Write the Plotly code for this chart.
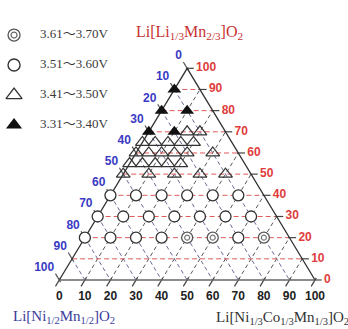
import plotly.graph_objects as go

# Compositions in mol% : t = Li[Li1/3Mn2/3]O2 (top), n = Li[Ni1/3Co1/3Mn1/3]O2 (bottom-right),
# the remainder is Li[Ni1/2Mn1/2]O2 (bottom-left).
ticks = list(range(0, 101, 10))

dbl_t = [20, 20, 20]
dbl_n = [40, 50, 70]

circ_t = [20, 20, 20, 20, 20,
          30, 30, 30, 30, 30, 30, 30,
          40, 40, 40, 40, 40, 40]
circ_n = [0, 10, 20, 30, 60,
          0, 10, 20, 30, 40, 50, 60,
          0, 10, 20, 30, 40, 50]

tri_t = [70, 70,
         65, 65, 65, 65, 65,
         60, 60, 60, 60, 60, 60,
         55, 55, 55, 55, 55,
         50, 50, 50, 50, 50]
tri_n = [15, 20,
         0, 5, 10, 15, 20,
         0, 5, 10, 15, 20, 30,
         0, 5, 10, 15, 20,
         0, 10, 20, 30, 40]

ftri_t = [90, 80, 80, 70, 70]
ftri_n = [0, 0, 10, 0, 10]

legend_labels = ["3.61～3.70V", "3.51～3.60V", "3.41～3.50V", "3.31～3.40V"]


def xy(t, n):
    """Ternary composition -> plane coordinates (triangle base 0..100, apex at Y=100)."""
    return n + t / 2.0, t


def pts(ts, ns):
    xs, ys = [], []
    for t, n in zip(ts, ns):
        x, y = xy(t, n)
        xs.append(x)
        ys.append(y)
    return xs, ys


fig = go.Figure()

# --- grid lines -------------------------------------------------------------
red_x, red_y, fw_x, fw_y, bk_x, bk_y = [], [], [], [], [], []
for k in ticks[1:-1]:
    # constant Li2MnO3 (horizontal)
    for x, y in (xy(k, 0), xy(k, 100 - k)):
        red_x.append(x); red_y.append(y)
    red_x.append(None); red_y.append(None)
    # constant NCM ("/" lines)
    for x, y in (xy(0, k), xy(100 - k, k)):
        fw_x.append(x); fw_y.append(y)
    fw_x.append(None); fw_y.append(None)
    # constant NiMn ("\" lines)
    for x, y in (xy(100 - k, 0), xy(0, 100 - k)):
        bk_x.append(x); bk_y.append(y)
    bk_x.append(None); bk_y.append(None)

fig.add_trace(go.Scatter(x=bk_x, y=bk_y, mode="lines",
                         line=dict(color="#6a6a98", width=1, dash="4px,3px")))
fig.add_trace(go.Scatter(x=fw_x, y=fw_y, mode="lines",
                         line=dict(color="#5a5a5a", width=1, dash="4px,3px")))
fig.add_trace(go.Scatter(x=red_x, y=red_y, mode="lines",
                         line=dict(color="#e05a5a", width=1, dash="5px,3px")))

# --- tick marks -------------------------------------------------------------
tb_x, tb_y, tr_x, tr_y, tl_x, tl_y = [], [], [], [], [], []
for k in ticks:
    # bottom edge, along "/"
    for t in (1.0, -3.0):
        x, y = k + t / 2.0, t
        tb_x.append(x); tb_y.append(y)
    tb_x.append(None); tb_y.append(None)
    # right edge, horizontal
    x0, y0 = xy(k, 100 - k)
    tr_x += [x0 - 0.5, x0 + 2.6, None]; tr_y += [y0, y0, None]
    # left edge, along "\"
    m = k
    for dt in (-1.0, 3.0):
        t = 100 - m + dt
        n = 100 - m - t
        x, y = xy(t, n)
        tl_x.append(x); tl_y.append(y)
    tl_x.append(None); tl_y.append(None)

fig.add_trace(go.Scatter(x=tb_x, y=tb_y, mode="lines", line=dict(color="#444", width=1.2)))
fig.add_trace(go.Scatter(x=tr_x, y=tr_y, mode="lines", line=dict(color="#444", width=1.2)))
fig.add_trace(go.Scatter(x=tl_x, y=tl_y, mode="lines", line=dict(color="#555", width=1.2)))

# --- triangle frame ---------------------------------------------------------
left_x, left_y = xy(0, 0)      # pure Li[Ni1/2Mn1/2]O2
right_x, right_y = xy(0, 100)  # pure Li[Ni1/3Co1/3Mn1/3]O2
apex_x, apex_y = xy(100, 0)    # pure Li[Li1/3Mn2/3]O2
fig.add_trace(go.Scatter(x=[left_x, apex_x, right_x], y=[left_y, apex_y, right_y],
                         mode="lines", line=dict(color="#333", width=1.3)))
fig.add_trace(go.Scatter(x=[left_x, right_x], y=[left_y, right_y], mode="lines",
                         line=dict(color="#666", width=1.3)))

# --- data markers -----------------------------------------------------------
x, y = pts(tri_t, tri_n)
fig.add_trace(go.Scatter(x=x, y=y, mode="markers",
                         marker=dict(symbol="triangle-up-open", size=12, color="#333",
                                     line=dict(width=1.2))))
x, y = pts(ftri_t, ftri_n)
fig.add_trace(go.Scatter(x=x, y=y, mode="markers",
                         marker=dict(symbol="triangle-up", size=12, color="#111",
                                     line=dict(width=0))))
x, y = pts(circ_t, circ_n)
fig.add_trace(go.Scatter(x=x, y=y, mode="markers",
                         marker=dict(symbol="circle", size=11, color="white",
                                     line=dict(color="#333", width=1.3))))
x, y = pts(dbl_t, dbl_n)
fig.add_trace(go.Scatter(x=x, y=y, mode="markers",
                         marker=dict(symbol="circle", size=11, color="white",
                                     line=dict(color="#555", width=1.3))))
fig.add_trace(go.Scatter(x=x, y=y, mode="markers",
                         marker=dict(symbol="circle-open", size=5, color="#777",
                                     line=dict(width=1.2))))

# --- axis tick labels -------------------------------------------------------
sans = "Liberation Sans, Arial, sans-serif"
# right edge (Li2MnO3 content)
rx, ry = [], []
for k in ticks:
    x0, y0 = xy(k, 100 - k)
    rx.append(x0 + 3.5); ry.append(y0)
fig.add_trace(go.Scatter(x=rx, y=ry, mode="text", text=[str(k) for k in ticks],
                         textposition="middle right",
                         textfont=dict(family=sans, size=12, color="#e03c3c", weight="bold")))
# bottom edge (NCM content)
bx = [xy(0, k)[0] for k in ticks]
fig.add_trace(go.Scatter(x=bx, y=[-8.0] * len(ticks), mode="text",
                         text=[str(k) for k in ticks], textposition="middle center",
                         textfont=dict(family=sans, size=12, color="#222", weight="bold")))
# left edge (NiMn content)
lx, ly = [], []
for k in ticks:
    x0, y0 = xy(100 - k, 0)
    lx.append(x0 - 2.0); ly.append(y0 + 5.7)
fig.add_trace(go.Scatter(x=lx, y=ly, mode="text", text=[str(k) for k in ticks],
                         textposition="middle left",
                         textfont=dict(family=sans, size=12, color="#3a3ac4", weight="bold")))

# --- end-member labels ------------------------------------------------------
serif = "Liberation Serif, Times New Roman, serif"
fig.add_trace(go.Scatter(x=[apex_x - 20.0], y=[apex_y + 16.7], mode="text",
                         text=["Li[Li<sub>1/3</sub>Mn<sub>2/3</sub>]O<sub>2</sub>"],
                         textposition="middle right",
                         textfont=dict(family=serif, size=16, color="#c83232")))
fig.add_trace(go.Scatter(x=[left_x - 18.1], y=[left_y - 17.5], mode="text",
                         text=["Li[Ni<sub>1/2</sub>Mn<sub>1/2</sub>]O<sub>2</sub>"],
                         textposition="middle right",
                         textfont=dict(family=serif, size=15, color="#3c3c9c")))
fig.add_trace(go.Scatter(x=[right_x - 38.7], y=[right_y - 17.9], mode="text",
                         text=["Li[Ni<sub>1/3</sub>Co<sub>1/3</sub>Mn<sub>1/3</sub>]O<sub>2</sub>"],
                         textposition="middle right",
                         textfont=dict(family=serif, size=15, color="#333")))

# --- legend -----------------------------------------------------------------
leg_sym_x = -17.7
leg_txt_x = -7.55
leg_y = [115.7 - 14.17 * i for i in range(len(legend_labels))]
fig.add_trace(go.Scatter(x=[leg_sym_x], y=[leg_y[0]], mode="markers",
                         marker=dict(symbol="circle", size=12, color="white",
                                     line=dict(color="#555", width=1.3))))
fig.add_trace(go.Scatter(x=[leg_sym_x], y=[leg_y[0]], mode="markers",
                         marker=dict(symbol="circle-open", size=6, color="#666",
                                     line=dict(width=1.2))))
fig.add_trace(go.Scatter(x=[leg_sym_x], y=[leg_y[1]], mode="markers",
                         marker=dict(symbol="circle-open", size=12, color="#333",
                                     line=dict(width=1.4))))
fig.add_trace(go.Scatter(x=[leg_sym_x], y=[leg_y[2]], mode="markers",
                         marker=dict(symbol="triangle-up-open", size=14, color="#333",
                                     line=dict(width=1.3))))
fig.add_trace(go.Scatter(x=[leg_sym_x], y=[leg_y[3]], mode="markers",
                         marker=dict(symbol="triangle-up", size=14, color="#111")))
fig.add_trace(go.Scatter(x=[leg_txt_x] * len(legend_labels), y=leg_y, mode="text",
                         text=legend_labels, textposition="middle right",
                         textfont=dict(family="Liberation Serif, Noto Sans CJK JP, serif",
                                       size=13, color="#3a3a3a")))

fig.update_layout(
    width=348, height=329,
    margin=dict(l=0, r=0, t=0, b=0),
    paper_bgcolor="white", plot_bgcolor="white",
    showlegend=False,
    xaxis=dict(range=[-23.19, 112.9], visible=False, fixedrange=True),
    yaxis=dict(range=[-23.15, 132.26], visible=False, fixedrange=True),
)

fig.write_html("out.html", config={"displayModeBar": False})
